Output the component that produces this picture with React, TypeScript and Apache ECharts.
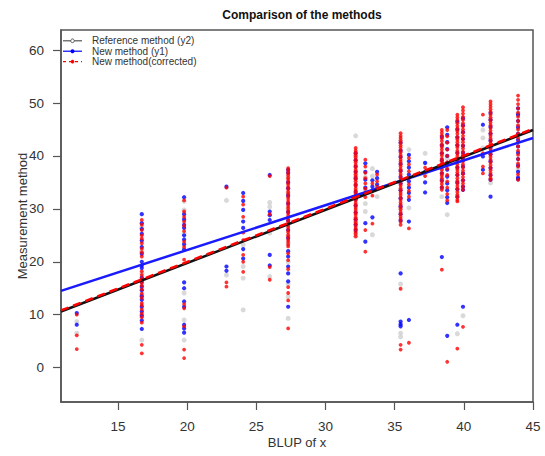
import React, { useEffect, useRef } from "react";
import * as echarts from "echarts";

// x positions of the measurement columns (BLUP of x)
const colX = [12.02, 16.72, 19.78, 22.84, 24.05, 25.97, 27.3, 32.18, 32.88, 33.39, 33.73, 35.43, 36.03, 37.2, 38.41, 38.8, 39.53, 39.94, 41.38, 41.93, 43.92];

// Reference method (y2) – grey points
const greyY = [
  [8.7, 6.5],
  [26.5, 22.0, 17.8, 13.8, 10.0, 5.2],
  [31.4, 29.8, 25.4, 14.1, 9.0, 5.2],
  [31.6, 17.5],
  [23.2, 19.1, 16.9, 10.9],
  [31.2, 30.4, 25.4, 17.2],
  [36.0, 33.0, 30.0, 25.0, 23.5, 20.0, 15.8, 13.4, 9.3],
  [43.8, 40.0, 36.5, 27.5, 25.4, 24.8],
  [36.0, 33.5, 31.0, 29.5],
  [37.6, 36.2, 25.1],
  [32.3],
  [43.0, 30.0, 15.8, 6.5, 5.8],
  [41.2, 30.2],
  [40.5, 38.6, 36.5],
  [37.5, 32.3],
  [39.5, 28.9],
  [6.4],
  [9.8],
  [44.9, 43.4, 41.5],
  [47.0, 34.9],
  [48.0, 37.5],
];

// New method (y1) – blue points
const blueY = [
  [10.3, 8.1],
  [29.0, 27.3, 26.2, 25.3, 24.0, 22.8, 21.5, 20.0, 19.3, 18.8, 17.0, 16.2, 15.3, 14.6, 13.5, 12.8, 11.5, 10.6, 9.8, 8.9, 7.3],
  [32.2, 29.0, 28.0, 27.0, 26.4, 25.0, 24.2, 23.3, 22.3, 16.1, 15.0, 12.5, 11.5, 8.1, 7.4, 6.6],
  [34.2, 19.1, 18.3],
  [33.0, 31.5, 29.8, 27.6, 26.4, 22.4, 20.6],
  [36.4, 29.5, 28.8, 27.9, 21.3, 19.3],
  [37.4, 36.8, 35.0, 33.9, 32.5, 31.0, 29.4, 27.8, 26.0, 24.5, 22.0, 21.0, 19.1, 17.8, 16.3, 11.5],
  [40.5, 39.2, 38.0, 37.0, 35.8, 34.5, 33.2, 31.8, 30.6, 29.3, 28.0, 27.0, 26.0],
  [38.6, 37.0, 35.5, 34.0, 27.3, 23.8],
  [35.4, 34.2, 33.5, 28.4],
  [37.0, 35.8, 34.6],
  [42.5, 41.0, 39.8, 38.5, 37.2, 36.0, 34.8, 33.5, 32.0, 30.5, 29.0, 27.8, 17.8, 8.7, 8.2, 7.8],
  [40.2, 39.0, 37.8, 36.5, 35.2, 34.0, 33.0, 31.7, 27.6, 9.0],
  [38.7, 37.0, 35.0, 33.1],
  [43.6, 42.0, 40.5, 39.2, 38.0, 36.7, 35.4, 34.0, 20.9],
  [45.4, 44.0, 42.6, 41.3, 40.0, 38.7, 37.4, 36.1, 34.8, 33.5, 32.2, 31.1, 6.0],
  [46.5, 45.0, 43.5, 42.0, 40.6, 39.2, 37.8, 36.4, 35.0, 33.7, 32.3, 8.1],
  [47.1, 45.8, 44.5, 43.2, 41.9, 40.6, 39.3, 38.0, 36.7, 35.4, 34.2, 33.6, 11.5],
  [45.9, 39.9, 37.4],
  [48.1, 46.8, 45.5, 44.2, 42.9, 41.6, 40.3, 39.0, 37.7, 36.4, 35.5, 32.3],
  [49.0, 47.8, 46.6, 45.4, 44.2, 43.0, 41.8, 40.6, 39.4, 38.2, 37.0, 35.9, 35.6],
];

// New method (corrected) – red points
const redY = [
  [10.0, 6.1, 3.5],
  [27.9, 27.0, 26.0, 25.0, 24.4, 23.5, 22.5, 21.8, 21.0, 18.2, 17.5, 16.8, 16.0, 15.5, 14.8, 14.0, 13.2, 12.2, 11.8, 11.0, 10.2, 9.5, 8.5, 4.3, 2.7],
  [31.6, 29.5, 28.5, 27.6, 26.8, 25.8, 23.8, 22.8, 20.4, 12.0, 11.2, 7.8, 3.4, 1.8],
  [34.0, 16.1, 15.3],
  [32.3, 30.8, 28.5, 25.5, 24.1, 21.3, 20.0, 18.1],
  [36.2, 29.0, 19.0, 16.6],
  [37.7, 37.3, 36.8, 36.4, 35.9, 35.5, 35.0, 34.6, 34.1, 33.7, 33.2, 32.8, 32.3, 31.9, 31.4, 31.0, 30.5, 30.1, 29.6, 29.2, 28.7, 28.3, 27.8, 27.4, 26.9, 26.5, 26.0, 25.6, 25.1, 24.7, 24.2, 23.8, 23.3, 22.9, 21.6, 20.3, 18.6, 15.2, 14.1, 12.7, 7.4],
  [41.5, 41.0, 40.6, 40.1, 39.7, 39.2, 38.8, 38.3, 37.9, 37.4, 37.0, 36.5, 36.1, 35.6, 35.2, 34.7, 34.3, 33.8, 33.4, 32.9, 32.5, 32.0, 31.6, 31.1, 30.7, 30.2, 29.8, 29.3, 28.9, 28.4, 28.0, 27.5, 27.1, 26.6, 26.2, 25.7, 25.3, 24.8],
  [39.3, 38.0, 36.8, 35.8, 34.8, 33.8, 33.0, 32.2, 26.0, 21.9],
  [34.8, 32.5, 27.2],
  [36.5, 35.2, 34.2],
  [44.3, 43.8, 43.4, 42.9, 42.5, 42.0, 41.6, 41.1, 40.7, 40.2, 39.8, 39.3, 38.9, 38.4, 38.0, 37.5, 37.1, 36.6, 36.2, 35.7, 35.3, 34.8, 34.4, 33.9, 33.5, 33.0, 32.6, 32.1, 31.7, 31.2, 30.8, 30.3, 29.9, 29.4, 29.0, 28.5, 28.1, 27.6, 27.0, 14.9, 4.3, 3.4],
  [39.6, 38.4, 37.1, 35.8, 34.6, 33.4, 32.3, 26.3, 4.7],
  [37.8, 36.2],
  [44.9, 44.4, 43.9, 43.3, 42.8, 42.2, 41.7, 41.2, 40.6, 40.1, 39.5, 39.0, 38.5, 37.9, 37.4, 36.8, 36.3, 35.8, 35.2, 34.7, 34.1, 33.6, 18.5],
  [44.9, 43.7, 42.5, 41.2, 40.0, 38.8, 37.6, 36.4, 35.2, 34.0, 32.8, 31.6, 1.1],
  [47.8, 47.3, 46.8, 46.2, 45.7, 45.2, 44.7, 44.2, 43.6, 43.1, 42.6, 42.1, 41.6, 41.0, 40.5, 40.0, 39.5, 39.0, 38.4, 37.9, 37.4, 36.9, 36.4, 35.8, 35.3, 34.8, 34.3, 33.8, 33.2, 32.7, 32.2, 31.7, 31.4, 3.6],
  [49.2, 48.6, 48.0, 47.4, 46.8, 46.2, 45.6, 45.0, 44.4, 43.8, 43.2, 42.6, 42.0, 41.4, 40.8, 40.2, 39.6, 39.0, 38.4, 37.8, 37.2, 36.6, 36.0, 35.4, 34.8, 34.2, 33.6, 7.7],
  [47.8, 40.5, 38.0, 36.7],
  [50.3, 49.8, 49.3, 48.8, 48.3, 47.8, 47.3, 46.8, 46.3, 45.8, 45.3, 44.8, 44.3, 43.8, 43.3, 42.8, 42.3, 41.8, 41.3, 40.8, 40.3, 39.8, 39.3, 38.8, 38.3, 37.8, 37.3, 36.8, 36.3, 35.8, 35.5],
  [51.4, 50.6, 49.8, 49.0, 48.2, 47.4, 46.6, 45.8, 45.0, 44.2, 43.4, 42.6, 41.8, 41.0, 40.2, 39.4, 38.6, 38.0, 36.5, 35.5],
];

// Fitted lines: [x, y] end points
const refLine = [[10.88, 10.6], [45, 44.9]];
const newLine = [[10.88, 14.5], [45, 43.4]];
const corrLine = [[10.88, 10.8], [45, 45.1]];

const xTicks = [15, 20, 25, 30, 35, 40, 45];
const yTicks = [0, 10, 20, 30, 40, 50, 60];

const legendNames = ["Reference method (y2)", "New method (y1)", "New method(corrected)"];

const FONT = "Liberation Sans, Arial, sans-serif";

function toPoints(ys: number[][]) {
  const out: number[][] = [];
  colX.forEach((x, i) => ys[i].forEach((y) => out.push([x, y])));
  return out;
}

export default function App() {
  const ref = useRef<HTMLDivElement>(null);
  useEffect(() => {
    if (!ref.current) return;
    const chart = echarts.init(ref.current, undefined, { renderer: "svg" });
    const lx1 = 63, lx2 = 82, tx = 92;
    const ly = [40.8, 51.2, 61.6];
    const axisCommon = {
      type: "value",
      nameLocation: "middle",
      nameMoveOverlap: false,
      nameTextStyle: { fontFamily: FONT, fontSize: 13, color: "#333" },
      axisLine: { show: true, onZero: false, lineStyle: { color: "#555", width: 1.5 } },
      splitLine: { show: false },
    };
    chart.setOption({
      animation: false,
      backgroundColor: "#ffffff",
      title: {
        text: "Comparison of the methods",
        left: 297,
        textAlign: "center",
        top: 4,
        textStyle: { fontFamily: FONT, fontSize: 12, fontWeight: "bold", color: "#111" },
      },
      grid: {
        left: 61, right: 12, top: 30, bottom: 54,
        show: true, borderColor: "#555", borderWidth: 1.5, backgroundColor: "transparent",
      },
      xAxis: {
        ...axisCommon,
        min: 10.88, max: 45,
        name: "BLUP of x", nameGap: 34,
        axisTick: { show: true, inside: false, length: 8, customValues: xTicks, lineStyle: { color: "#555", width: 1.2 } },
        axisLabel: { customValues: xTicks, margin: 17, fontFamily: FONT, fontSize: 13.5, color: "#333" },
      },
      yAxis: {
        ...axisCommon,
        min: -6.5, max: 63.8,
        name: "Measurement method", nameGap: 32, nameRotate: 90,
        axisTick: { show: true, inside: false, length: 8, customValues: yTicks, lineStyle: { color: "#555", width: 1.2 } },
        axisLabel: { customValues: yTicks, margin: 17, fontFamily: FONT, fontSize: 13.5, color: "#333" },
      },
      series: [
        {
          type: "scatter", name: legendNames[0], data: toPoints(greyY), symbolSize: 5,
          itemStyle: { color: "#cfcfcf" }, silent: true,
        },
        {
          type: "scatter", name: legendNames[1], data: toPoints(blueY), symbolSize: 4.2,
          itemStyle: { color: "#0000ff" }, silent: true,
        },
        {
          type: "scatter", name: legendNames[2], data: toPoints(redY), symbolSize: 3.8,
          itemStyle: { color: "#ff0000" }, silent: true,
        },
        {
          type: "line", data: newLine, showSymbol: false, silent: true,
          lineStyle: { color: "#1a1aff", width: 2.5 },
        },
        {
          type: "line", data: refLine, showSymbol: false, silent: true,
          lineStyle: { color: "#111", width: 2.5 },
        },
        {
          type: "line", data: corrLine, showSymbol: false, silent: true,
          lineStyle: { color: "#ff0000", width: 2.5, type: [8, 5] },
        },
      ],
      graphic: [
        { type: "line", shape: { x1: lx1, y1: ly[0], x2: lx2, y2: ly[0] }, style: { stroke: "#555", lineWidth: 1.2 } },
        { type: "circle", shape: { cx: (lx1 + lx2) / 2, cy: ly[0], r: 1.8 }, style: { fill: "#fff", stroke: "#555", lineWidth: 1 } },
        { type: "line", shape: { x1: lx1, y1: ly[1], x2: lx2, y2: ly[1] }, style: { stroke: "#0000ff", lineWidth: 1.2 } },
        { type: "circle", shape: { cx: (lx1 + lx2) / 2, cy: ly[1], r: 2 }, style: { fill: "#0000ff" } },
        { type: "line", shape: { x1: lx1, y1: ly[2], x2: lx2, y2: ly[2] }, style: { stroke: "#ff0000", lineWidth: 1.2, lineDash: [3, 3] } },
        { type: "circle", shape: { cx: (lx1 + lx2) / 2, cy: ly[2], r: 1.8 }, style: { fill: "#ff0000" } },
        ...legendNames.map((t, i) => ({
          type: "text", x: tx, y: ly[i],
          style: { text: t, fontFamily: FONT, fontSize: 10, fill: "#333", verticalAlign: "middle" },
        })),
      ],
    });
    return () => chart.dispose();
  }, []);
  return (
    <div
      ref={ref}
      style={{ position: "absolute", left: 0, top: 0, width: 545, height: 456, background: "#fff" }}
    />
  );
}
